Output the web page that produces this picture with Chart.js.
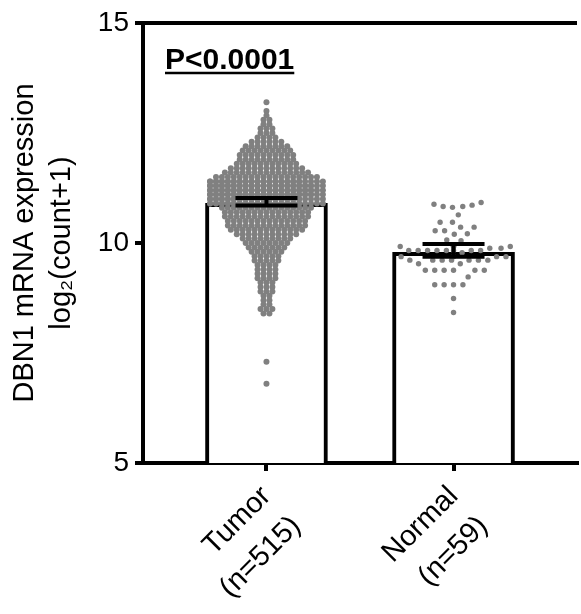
<!DOCTYPE html>
<html>
<head>
<meta charset="utf-8">
<script src="https://cdn.jsdelivr.net/npm/chart.js@4.4.1/dist/chart.umd.min.js"></script>
<style>
  html, body { margin: 0; padding: 0; background: #fff; }
  #wrap { width: 581px; height: 614px; }
</style>
</head>
<body>
<div id="wrap"><canvas id="dbn1Chart"></canvas></div>
<script>
const categories = ['Tumor', 'Normal'];
const sampleSizes = [515, 59];
const barMeans = [10.9, 9.79];
const errUpper = [11.02, 9.98];
const errLower = [10.85, 9.69];
const yTicks = [5, 10, 15];
const pValueText = 'P<0.0001';

const tumorLevels = [13.2, 13.0, 12.9, 12.8, 12.7, 12.6, 12.5, 12.4, 12.3, 12.2, 12.1, 12.0, 11.9, 11.8, 11.7, 11.6, 11.5,
  11.4, 11.3, 11.2, 11.1, 11.0, 10.9,
  10.8, 10.7, 10.6, 10.5, 10.4, 10.3, 10.2, 10.1, 10.0, 9.9, 9.8, 9.7, 9.6, 9.5, 9.4, 9.3, 9.2, 9.1, 9.0,
  8.9, 8.8, 8.7, 8.6, 8.5, 8.4, 7.3, 6.8];
const tumorCounts = [1, 1, 1, 2, 2, 3, 3, 4, 6, 8, 9, 10, 10, 11, 13, 15, 18,
  36, 38, 38, 38, 36, 36,
  16, 15, 15, 14, 14, 13, 11, 9, 8, 7, 6, 5, 5, 4, 4, 4, 4, 3, 3,
  3, 2, 2, 2, 3, 2, 1, 1];

const normalValues = [10.92, 10.88, 10.86, 10.83, 10.83, 10.81, 10.64, 10.47, 10.47, 10.36, 10.36, 10.28, 10.28,
  10.21, 10.20, 10.07, 10.05, 9.92, 9.92, 9.92, 9.92, 9.92, 9.88, 9.88,
  9.83, 9.83, 9.83, 9.83, 9.83, 9.83, 9.83, 9.83, 9.78, 9.69, 9.69, 9.69, 9.69,
  9.61, 9.61, 9.61, 9.61, 9.61, 9.61, 9.61, 9.53, 9.53,
  9.38, 9.38, 9.38, 9.38, 9.38, 9.38, 9.23, 9.05, 9.05, 9.05, 9.05, 8.74, 8.42];

const xLabels = categories.map((c, i) => [c, '(n=' + sampleSizes[i] + ')']);

// swarm layout (pixels of the target plot)
const PX_PER_Y = 44;
const PX_PER_X = 189;
const SWARM_HALF = 58;

// tumor: each level is one row, dots side by side, extra dots stack when the row is full
function rowPoints(levels, counts, pos, step) {
  const slots = Math.floor(2 * SWARM_HALF / step) + 1;
  const pts = [];
  levels.forEach((lv, r) => {
    const n = counts[r];
    const shown = Math.min(n, slots);
    for (let i = 0; i < n; i++) {
      const off = ((i % shown) - (shown - 1) / 2) * step;
      pts.push({ x: pos + off / PX_PER_X, y: lv });
    }
  });
  return pts;
}

// normal: simple beeswarm, nearest free spot to the centre
function swarmPoints(vals, pos, diam) {
  const order = vals.map((v, i) => i).sort((a, b) => vals[a] - vals[b]);
  const placed = [];
  const out = new Array(vals.length);
  const d2 = diam * diam;
  order.forEach((idx, k) => {
    const y = vals[idx] * PX_PER_Y;
    const near = placed.filter(p => Math.abs(p.y - y) < diam);
    const cands = [0];
    near.forEach(p => {
      const w = Math.sqrt(d2 - (p.y - y) * (p.y - y));
      cands.push(p.x - w, p.x + w);
    });
    let best = null;
    cands.forEach(c => {
      if (Math.abs(c) > SWARM_HALF) return;
      const ok = near.every(p => (p.x - c) * (p.x - c) + (p.y - y) * (p.y - y) >= d2 - 1e-6);
      if (!ok) return;
      if (best === null || Math.abs(c) < Math.abs(best) - 1e-6 ||
          (Math.abs(Math.abs(c) - Math.abs(best)) < 1e-6 && (k % 2 ? c < best : c > best))) best = c;
    });
    if (best === null) best = 0;
    out[idx] = best;
    placed.push({ x: best, y: y });
  });
  return vals.map((v, i) => ({ x: pos + out[i] / PX_PER_X, y: v }));
}

const tumorPoints = rowPoints(tumorLevels, tumorCounts, 1, 6);
const normalPoints = swarmPoints(normalValues, 2, 9.5);

const extras = {
  id: 'extras',
  afterDatasetsDraw(chart) {
    const { ctx, chartArea, scales: { x, y } } = chart;
    ctx.save();
    ctx.strokeStyle = '#000';
    ctx.lineWidth = 4;
    categories.forEach((c, i) => {
      const cx = x.getPixelForValue(i + 1);
      const top = y.getPixelForValue(errUpper[i]);
      const bot = y.getPixelForValue(errLower[i]);
      ctx.beginPath();
      ctx.moveTo(cx, top); ctx.lineTo(cx, bot);
      ctx.moveTo(cx - 31, top); ctx.lineTo(cx + 31, top);
      ctx.moveTo(cx - 31, bot); ctx.lineTo(cx + 31, bot);
      ctx.stroke();
    });
    // top frame
    ctx.beginPath();
    ctx.moveTo(chartArea.left - 2, chartArea.top);
    ctx.lineTo(chartArea.right, chartArea.top);
    ctx.stroke();
    // p value, underlined
    ctx.font = 'bold 30px "Liberation Sans", Arial, sans-serif';
    ctx.fillStyle = '#000';
    ctx.textBaseline = 'alphabetic';
    const tx = chartArea.left + 22;
    const ty = chartArea.top + 46;
    ctx.fillText(pValueText, tx, ty);
    const w = ctx.measureText(pValueText).width;
    ctx.lineWidth = 2.5;
    ctx.beginPath();
    ctx.moveTo(tx, ty + 4); ctx.lineTo(tx + w, ty + 4);
    ctx.stroke();
    ctx.restore();
  }
};

Chart.defaults.font.family = '"Liberation Sans", Arial, Helvetica, sans-serif';
Chart.defaults.color = '#000';

new Chart(document.getElementById('dbn1Chart'), {
  type: 'bar',
  data: {
    datasets: [
      {
        type: 'scatter',
        data: tumorPoints,
        pointRadius: 3,
        pointBackgroundColor: '#808080',
        pointBorderWidth: 0,
        order: 0
      },
      {
        type: 'scatter',
        data: normalPoints,
        pointRadius: 2.7,
        pointBackgroundColor: '#808080',
        pointBorderWidth: 0,
        order: 0
      },
      {
        type: 'bar',
        data: barMeans.map((m, i) => ({ x: i + 1, y: m })),
        backgroundColor: '#fff',
        borderColor: '#000',
        borderWidth: 4,
        barThickness: 122,
        order: 1
      }
    ]
  },
  options: {
    responsive: true,
    maintainAspectRatio: false,
    animation: false,
    layout: { padding: { left: 0, top: 23, right: 0, bottom: 0 } },
    plugins: {
      legend: { display: false },
      tooltip: { enabled: false }
    },
    scales: {
      x: {
        type: 'linear',
        min: 0.34,
        max: 2.66,
        offset: false,
        afterBuildTicks: axis => { axis.ticks = categories.map((c, i) => ({ value: i + 1 })); },
        afterFit: axis => { axis.height = 151; },
        ticks: {
          autoSkip: false,
          maxRotation: 45,
          minRotation: 45,
          padding: 6,
          font: { size: 29, lineHeight: 1.45 },
          callback: (v, i) => xLabels[i]
        },
        grid: { drawOnChartArea: false, offset: false, color: '#000', lineWidth: 4, tickLength: 8 },
        border: { color: '#000', width: 4 }
      },
      y: {
        min: 5,
        max: 15,
        afterBuildTicks: axis => { axis.ticks = yTicks.map(v => ({ value: v })); },
        afterFit: axis => { axis.width = 143; },
        ticks: { font: { size: 28 }, padding: 6 },
        grid: { drawOnChartArea: false, color: '#000', lineWidth: 4, tickLength: 8 },
        border: { color: '#000', width: 4 },
        title: {
          display: true,
          text: ['DBN1 mRNA expression', 'log\u2082(count+1)'],
          font: { size: 29, lineHeight: 1.28 },
          padding: { top: 6, bottom: 0 }
        }
      }
    }
  },
  plugins: [extras]
});
</script>
</body>
</html>
